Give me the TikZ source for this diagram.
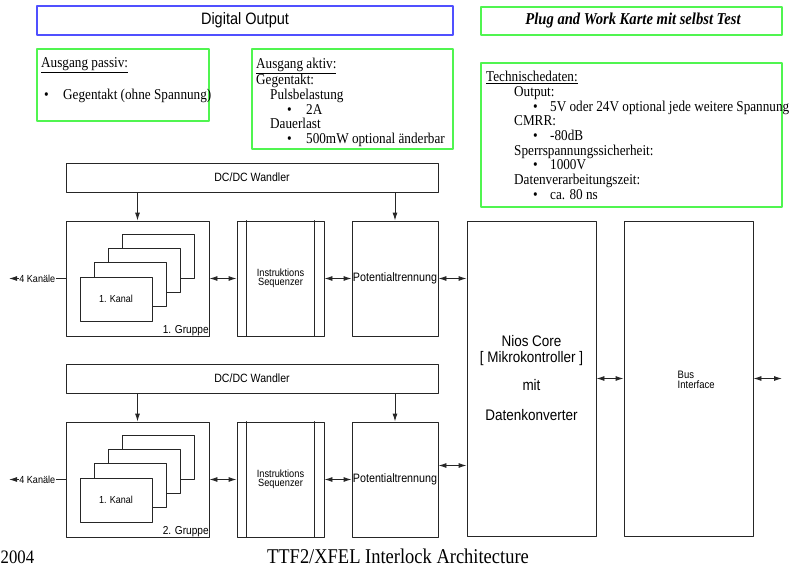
\documentclass[tikz,border=0pt]{standalone}
\usepackage{fontspec}
\setmainfont{Liberation Serif}[FakeStretch=0.88]
\setsansfont{Liberation Sans}[FakeStretch=0.88]
\usetikzlibrary{arrows.meta}
\definecolor{headblue}{RGB}{80,80,255}
\definecolor{notegreen}{RGB}{80,245,80}
\tikzset{
  boxline/.style={draw=black!85,line width=.9pt},
  blk/.style={boxline,inner sep=0pt,font=\sffamily},
  note/.style={draw=notegreen,line width=1.2pt,inner sep=0pt},
  card/.style={blk,fill=white,minimum width=72pt,minimum height=44pt,font=\sffamily\fontsize{10.2}{12}\selectfont},
  notetext/.style={anchor=north west,inner sep=0pt,align=left,font=\fontsize{15}{14.7}\selectfont},
  small/.style={inner sep=.5pt,font=\sffamily\fontsize{10.3}{12}\selectfont},
}
\begin{document}
\begin{tikzpicture}[x=1pt,y=-1pt,>={Latex[length=8pt,width=5pt]},line cap=round,line join=round]
	\useasboundingbox (0,0) rectangle (792,567);
	% Kopfzeile
	\node[draw=headblue,line width=1.2pt,minimum width=416pt,minimum height=29pt,inner sep=0pt,font=\sffamily\fontsize{16.5}{18}\selectfont] (titel) at (245,20.5) {Digital Output};
	\node[note,minimum width=301pt,minimum height=28pt,font=\bfseries\itshape\fontsize{16.6}{18}\selectfont] (plug) at (631.5,21) {\hspace*{3pt}Plug and Work Karte mit selbst Test};
	% Notizen
	\node[note,minimum width=172pt,minimum height=72pt] (passiv) at (123,85) {};
	\node[note,minimum width=201pt,minimum height=100pt] (aktiv) at (352.5,99) {};
	\node[note,minimum width=301pt,minimum height=144pt] (daten) at (631.5,135) {};
	\node[notetext] (passivtxt) at (41,57) {\underline{Ausgang passiv:}\\[16pt]
		\hspace*{3pt}\makebox[19pt][l]{•}Gegentakt (ohne Spannung)};
	\node[notetext] (aktivtxt) at (256,57.5) {\underline{Ausgang aktiv:}\\Gegentakt:\\
		\hspace*{14pt}Pulsbelastung\\
		\hspace*{31pt}\makebox[19pt][l]{•}2A\\
		\hspace*{14pt}Dauerlast\\
		\hspace*{31pt}\makebox[19pt][l]{•}500mW optional änderbar};
	\node[notetext] (datentxt) at (486,71) {\underline{Technischedaten:}\\
		\hspace*{28pt}Output:\\
		\hspace*{47pt}\makebox[17pt][l]{•}5V oder 24V optional jede weitere Spannung\\
		\hspace*{28pt}CMRR:\\
		\hspace*{47pt}\makebox[17pt][l]{•}-80dB\\
		\hspace*{28pt}Sperrspannungssicherheit:\\
		\hspace*{47pt}\makebox[17pt][l]{•}1000V\\
		\hspace*{28pt}Datenverarbeitungszeit:\\
		\hspace*{47pt}\makebox[17pt][l]{•}ca. 80 ns};
	% zwei Gruppen
	\foreach \g/\y in {1/0,2/201}{
		\node[blk,minimum width=372pt,minimum height=29pt,font=\sffamily\fontsize{12}{14}\selectfont] (dc\g) at (252,177.5+\y) {DC/DC Wandler};
		\node[blk,minimum width=143pt,minimum height=115pt] (grp\g) at (137.5,278.5+\y) {};
		\foreach \i in {3,2,1}
			\node[card] (k\g\i) at ({116+14.3*\i},{299+\y-14.3*\i}) {};
		\node[card] (kanal\g) at (116,299+\y) {1. Kanal};
		\node[small,anchor=south east,font=\sffamily\fontsize{11.5}{13}\selectfont] (gname\g) at (grp\g.south east) {\g. Gruppe};
		\node[blk,minimum width=87pt,minimum height=115pt,align=center,font=\sffamily\fontsize{10.5}{9.3}\selectfont] (seq\g) at (280.5,278.5+\y) {Instruktions\\Sequenzer};
		\draw[boxline] ([xshift=10pt]seq\g.north west) -- ([xshift=10pt]seq\g.south west);
		\draw[boxline] ([xshift=-10pt]seq\g.north east) -- ([xshift=-10pt]seq\g.south east);
		\node[blk,minimum width=86pt,minimum height=115pt,font=\sffamily\fontsize{12.2}{14}\selectfont] (pot\g) at (395,278.5+\y) {Potentialtrennung};
		\coordinate (out\g) at (9,278.5+\y);
		\draw[boxline,->] (grp\g.west) -- node[small,fill=white] (kan\g) {4 Kanäle} (out\g);
		\draw[boxline,->] (dc\g.south -| grp\g.north) -- (grp\g.north);
		\draw[boxline,->] (dc\g.south -| pot\g.north) -- (pot\g.north);
		\draw[boxline,<->] (grp\g.east) -- (seq\g.west);
		\draw[boxline,<->] (seq\g.east) -- (pot\g.west);
	}
	% Mikrokontroller und Bus
	\node[blk,minimum width=129pt,minimum height=315pt,align=center,font=\sffamily\fontsize{15.3}{16}\selectfont] (nios) at (531.5,378.5) {Nios Core\\{[ Mikrokontroller ]}\\[12pt]mit\\[14pt]Datenkonverter};
	\node[blk,minimum width=129pt,minimum height=315pt] (bus) at (688.5,378.5) {};
	\node[anchor=west,align=left,inner sep=0pt,font=\sffamily\fontsize{10.8}{9.5}\selectfont] (bustxt) at (677.5,380) {Bus\\Interface};
	\coordinate (p2r) at ([yshift=14pt]pot2.east);
	\coordinate (busout) at (782,378.5);
	\draw[boxline,<->] (pot1.east) -- (pot1.east -| nios.west);
	\draw[boxline,<->] (p2r) -- (p2r -| nios.west);
	\draw[boxline,<->] (nios.east) -- (bus.west);
	\draw[boxline,<->] (bus.east) -- (busout);
	% Fusszeile
	\node[anchor=base west,inner sep=0pt,font=\fontsize{19}{22}\selectfont] (jahr) at (0.5,563) {2004};
	\node[anchor=base,inner sep=0pt,font=\fontsize{21}{22}\selectfont] (fuss) at (398,563) {TTF2/XFEL Interlock Architecture};
\end{tikzpicture}
\end{document}
